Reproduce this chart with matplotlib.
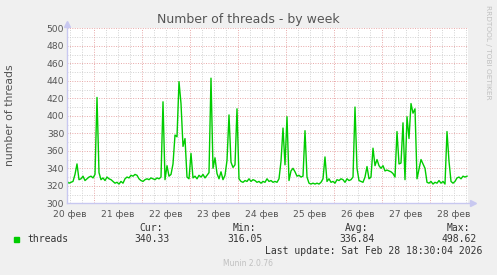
import matplotlib.pyplot as plt
import numpy as np

# hourly samples, starting Feb 20 10:30
threads = [325, 323, 324, 325, 333, 345, 327, 328, 331, 326, 328, 330, 331, 329, 333, 421,
           335, 327, 329, 326, 330, 328, 327, 325, 323, 324, 322, 325, 323, 328, 330, 329,
           332, 331, 333, 332, 328, 326, 325, 327, 328, 327, 329, 328, 327, 329, 328, 330,
           416, 327, 343, 331, 333, 345, 378, 376, 439, 414, 365, 374, 330, 328, 357, 329,
           331, 328, 332, 330, 333, 329, 332, 335, 443, 340, 352, 334, 328, 336, 327, 332,
           349, 401, 347, 341, 344, 408, 328, 325, 324, 326, 325, 328, 325, 327, 326, 324,
           325, 323, 325, 324, 328, 325, 326, 324, 325, 324, 328, 348, 386, 344, 399, 326,
           337, 340, 336, 331, 332, 330, 331, 383, 330, 323, 322, 323, 322, 323, 322, 324,
           328, 353, 325, 328, 324, 325, 323, 327, 326, 328, 327, 324, 328, 326, 327, 330,
           410, 340, 326, 325, 324, 330, 342, 328, 330, 363, 343, 350, 343, 340, 343, 337,
           338, 337, 336, 334, 330, 382, 345, 346, 392, 327, 399, 374, 414, 403, 408, 328,
           339, 350, 345, 340, 324, 323, 325, 322, 324, 323, 326, 323, 325, 322, 382, 348,
           325, 323, 325, 329, 330, 328, 331, 330, 331]
day_labels = ['20 фев', '21 фев', '22 фев', '23 фев', '24 фев',
              '25 фев', '26 фев', '27 фев', '28 фев']
y_ticks = list(range(300, 501, 20))
legend_stats = [('Cur:', '340.33'), ('Min:', '316.05'), ('Avg:', '336.84'), ('Max:', '498.62')]

W, H = 497, 275
fig = plt.figure(figsize=(W / 100, H / 100), dpi=100)
fig.patch.set_facecolor('#f0f0f0')
ax = fig.add_axes([67 / W, (H - 203.3) / H, 401 / W, 175 / H])
ax.set_facecolor('white')

hours = np.arange(len(threads))
ax.set_xlim(0, 200.5)
ax.set_ylim(300, 500)

# grid: minor every 6h / 10, major every day / 20
minor_col = '#d2d2d2'
major_col = '#e8a8a8'
dot = (0, (1, 1.5))
for h in np.arange(1.5, 201, 6):
    if (h - 13.5) % 24 != 0:
        ax.axvline(h, color=minor_col, lw=0.7, ls=dot, zorder=1)
for v in range(310, 500, 20):
    ax.axhline(v, color=minor_col, lw=0.7, ls=dot, zorder=1)
for h in np.arange(13.5, 201, 24):
    ax.axvline(h, color=major_col, lw=0.7, ls=dot, zorder=2)
for v in range(320, 501, 20):
    ax.axhline(v, color=major_col, lw=0.7, ls=dot, zorder=2)
ax.axvline(200.5, color=major_col, lw=0.7, ls=dot, zorder=2)

ax.plot(hours, threads, color='#00cc00', lw=1.0, zorder=3)

for s in ax.spines.values():
    s.set_visible(False)
axis_col = '#c8c8f0'
ax.plot([0, 0], [300, 503], color=axis_col, lw=1, clip_on=False, zorder=4)
ax.plot([0, 202], [300, 300], color=axis_col, lw=1, clip_on=False, zorder=4)
ax.plot([0], [505], marker='^', color=axis_col, ms=4, clip_on=False)
ax.plot([203], [300], marker='>', color=axis_col, ms=4, clip_on=False)

ax.set_xticks(np.arange(1.5, 200, 24))
ax.set_xticklabels(day_labels)
ax.set_yticks(y_ticks)
ax.tick_params(axis='both', length=0, labelsize=6.6, colors='#555555')
ax.tick_params(axis='x', pad=4.5)
ax.tick_params(axis='y', pad=2)

fig.text(0.5, 1 - 19 / H, 'Number of threads - by week', ha='center', va='center',
         fontsize=9, color='#555555')
fig.text(10 / W, 1 - 115 / H, 'number of threads', rotation=90, ha='center', va='center',
         fontsize=7.8, color='#555555')
fig.text(488 / W, 1 - 5 / H, 'RRDTOOL / TOBI OETIKER', rotation=-90, ha='center', va='top',
         fontsize=5.3, color='#c0c0c0')

mono = 'DejaVu Sans Mono'
fig.patches.append(plt.Rectangle((14 / W, 1 - 242 / H), 5 / W, 5 / H,
                                 transform=fig.transFigure, color='#00cc00'))
fig.text(27 / W, 1 - 239.5 / H, 'threads', family=mono, fontsize=7, color='#333333',
         ha='left', va='center')
value_right = [170, 263, 375, 477]
for (lab, val), xr in zip(legend_stats, value_right):
    fig.text((xr - 7) / W, 1 - 228 / H, lab, family=mono, fontsize=7, color='#333333',
             ha='right', va='center')
    fig.text(xr / W, 1 - 239.5 / H, val, family=mono, fontsize=7, color='#333333',
             ha='right', va='center')
fig.text(482 / W, 1 - 251.5 / H, 'Last update: Sat Feb 28 18:30:04 2026', family=mono,
         fontsize=7, color='#333333', ha='right', va='center')
fig.text(248 / W, 1 - 264 / H, 'Munin 2.0.76', ha='center', va='center',
         fontsize=5.5, color='#c0c0c0')

fig.savefig('out.png', dpi=100, facecolor=fig.get_facecolor())
